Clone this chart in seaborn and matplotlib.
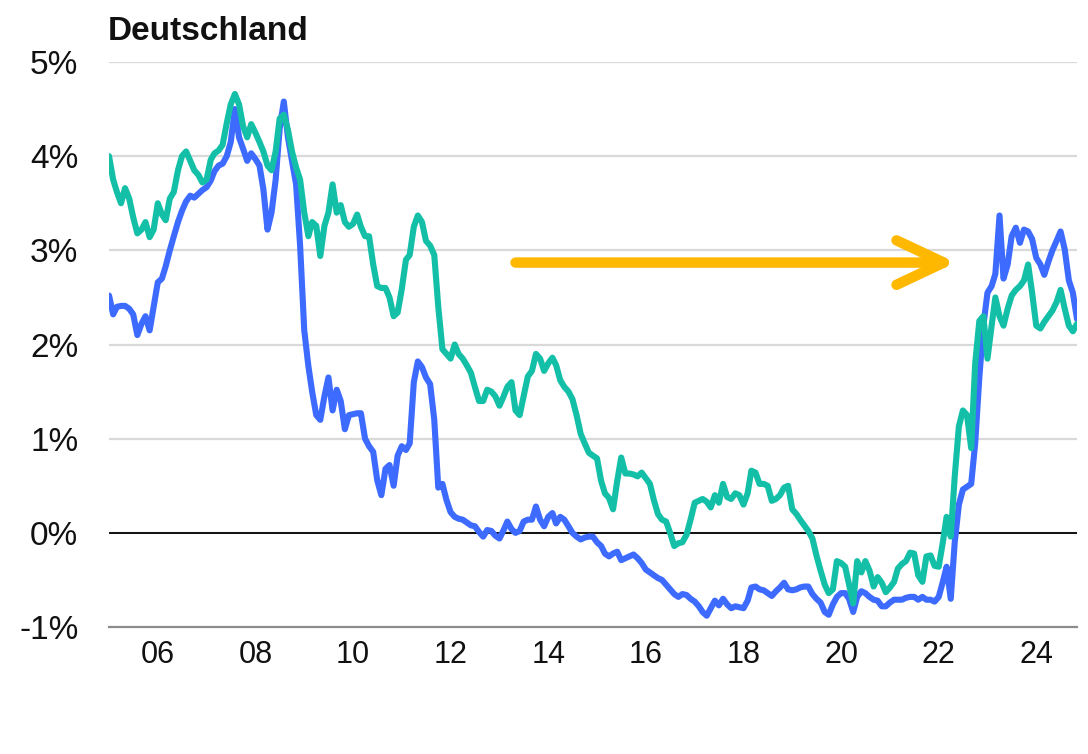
import numpy as np
import pandas as pd
import matplotlib
matplotlib.use("Agg")
import matplotlib.pyplot as plt
import matplotlib.dates as mdates
import seaborn as sns

# monthly readings, Jan 2005 .. Nov 2024 (values in %)
start_month = "2005-01-01"

yield_2y = [
    2.52, 2.32, 2.40, 2.41, 2.41, 2.38, 2.32, 2.10, 2.22, 2.30,
    2.15, 2.40, 2.66, 2.70, 2.83, 3.00, 3.15, 3.30, 3.42, 3.52,
    3.58, 3.56, 3.60, 3.64, 3.67, 3.74, 3.84, 3.90, 3.92, 4.00,
    4.15, 4.50, 4.20, 4.08,
    3.95, 4.03, 3.97, 3.90, 3.65, 3.22, 3.40, 3.75, 4.29, 4.58,
    4.20, 3.95, 3.70, 3.05, 2.15, 1.77, 1.50, 1.25, 1.20, 1.45,
    1.65, 1.30, 1.52, 1.40, 1.10, 1.25, 1.26, 1.27, 1.27, 1.00,
    0.92, 0.86, 0.56,
    0.40, 0.68, 0.72, 0.50, 0.82, 0.92, 0.88, 0.95, 1.60, 1.82,
    1.76, 1.65, 1.58, 1.20, 0.48, 0.52, 0.35, 0.22, 0.17, 0.15,
    0.14, 0.11, 0.08, 0.07, 0.01, -0.04, 0.03, 0.02, -0.03, -0.06,
    0.03, 0.12, 0.04, 0.00, 0.02, 0.12, 0.14,
    0.14, 0.28, 0.14, 0.07, 0.17, 0.21, 0.10, 0.17, 0.14, 0.07,
    0.00, -0.04, -0.07, -0.05, -0.04, -0.04, -0.10, -0.14, -0.22, -0.25,
    -0.22, -0.20, -0.29, -0.27, -0.25, -0.23, -0.27, -0.32, -0.39,
    -0.42, -0.45, -0.48, -0.50, -0.55, -0.60, -0.65, -0.68, -0.65, -0.66,
    -0.70, -0.73, -0.78, -0.84, -0.88, -0.80, -0.72, -0.77, -0.70, -0.76,
    -0.80, -0.78, -0.79, -0.80, -0.72, -0.58, -0.57, -0.60, -0.61, -0.64,
    -0.67, -0.62, -0.58, -0.53, -0.60, -0.61, -0.60, -0.58, -0.57, -0.57,
    -0.65, -0.70, -0.74, -0.84, -0.87, -0.76, -0.68, -0.64, -0.64, -0.70,
    -0.84, -0.68, -0.62, -0.64, -0.68, -0.71, -0.72, -0.78, -0.78, -0.74,
    -0.71, -0.71, -0.71, -0.69, -0.68, -0.68, -0.71, -0.68, -0.71, -0.71,
    -0.73,
    -0.68, -0.52, -0.36, -0.70, -0.10, 0.30, 0.46, 0.49, 0.52, 0.95,
    1.65, 2.20, 2.55, 2.62, 2.75, 3.37, 2.70, 2.85, 3.15, 3.24,
    3.08, 3.22, 3.20, 3.12, 2.92, 2.85, 2.74, 2.88, 3.00, 3.10,
    3.20, 3.01, 2.68, 2.55, 2.27,
]

yield_10y = [
    4.00, 3.75, 3.62, 3.50, 3.66, 3.55, 3.35, 3.18, 3.22, 3.30,
    3.14, 3.22, 3.50, 3.38, 3.32, 3.55, 3.62, 3.85, 4.00, 4.05,
    3.95, 3.85, 3.80, 3.72, 3.75, 3.96, 4.03, 4.06, 4.12, 4.35,
    4.55, 4.66, 4.55, 4.32,
    4.20, 4.34, 4.25, 4.15, 4.05, 3.90, 3.85, 4.05, 4.40, 4.44,
    4.28, 4.05, 3.88, 3.75, 3.40, 3.15, 3.30, 3.26, 2.94, 3.26,
    3.40, 3.70, 3.40, 3.48, 3.30, 3.25, 3.28, 3.38, 3.25, 3.15,
    3.15, 2.85, 2.62,
    2.60, 2.60, 2.50, 2.30, 2.34, 2.59, 2.90, 2.95, 3.25, 3.37,
    3.30, 3.10, 3.05, 2.95, 2.40, 1.95, 1.90, 1.85, 2.00, 1.90,
    1.85, 1.78, 1.70, 1.55, 1.40, 1.40, 1.52, 1.50, 1.45, 1.35,
    1.45, 1.55, 1.60, 1.30, 1.25, 1.45, 1.66,
    1.72, 1.90, 1.85, 1.72, 1.80, 1.86, 1.78, 1.62, 1.55, 1.50,
    1.42, 1.25, 1.05, 0.95, 0.85, 0.82, 0.79, 0.55, 0.42, 0.37,
    0.25, 0.55, 0.80, 0.63, 0.63, 0.62, 0.60, 0.64, 0.58, 0.52,
    0.35, 0.20, 0.14, 0.12,
    0.00, -0.14, -0.11, -0.10, -0.02, 0.14, 0.32, 0.34, 0.36, 0.33,
    0.27, 0.40, 0.32, 0.52, 0.38, 0.36, 0.42, 0.40, 0.30, 0.42,
    0.66, 0.64, 0.52, 0.52, 0.50, 0.34, 0.36, 0.40, 0.48, 0.50,
    0.25, 0.20, 0.14, 0.08, 0.02,
    -0.06, -0.24, -0.40, -0.55, -0.64, -0.60, -0.30, -0.32, -0.36, -0.55,
    -0.75, -0.30, -0.42, -0.30, -0.40, -0.57, -0.47, -0.53, -0.63, -0.58,
    -0.52, -0.38, -0.33, -0.30, -0.21, -0.22, -0.45, -0.52, -0.25, -0.24,
    -0.35,
    -0.36, -0.10, 0.17, -0.04, 0.60, 1.13, 1.30, 1.25, 0.90, 1.80,
    2.25, 2.30, 1.85, 2.20, 2.50, 2.30, 2.20, 2.38, 2.52, 2.58,
    2.62, 2.68, 2.85, 2.55, 2.20, 2.17, 2.24, 2.30, 2.36, 2.45,
    2.58, 2.38, 2.20, 2.14, 2.22,
]

tick_years = list(range(2006, 2025, 2))
y_ticks = [-1, 0, 1, 2, 3, 4, 5]
title = "Deutschland"

dates = pd.date_range(start_month, periods=len(yield_2y), freq="MS")
df = pd.DataFrame({"date": dates, "2y": yield_2y, "10y": yield_10y})

sns.set_style("white")
plt.rcParams["font.family"] = ["Liberation Sans", "DejaVu Sans"]

fig = plt.figure(figsize=(10.88, 7.54), dpi=100)
ax = fig.add_axes([0.1002, 0.1684, 0.8897, 0.7494])

for y in y_ticks[1:]:
    ax.axhline(y, color="#d9d9d9", lw=1.6, zorder=0)
ax.axhline(0, color="black", lw=1.3, zorder=1)

sns.lineplot(data=df, x="date", y="2y", ax=ax, color="#3d6bff", lw=4.4, zorder=3)
sns.lineplot(data=df, x="date", y="10y", ax=ax, color="#14bfa8", lw=4.4, zorder=4)

ax.set_xlim(dates[0], dates[-1])
ax.set_ylim(-1, 5)
ax.set_yticks(y_ticks)
ax.set_yticklabels([f"{v}%" for v in y_ticks])
ax.set_xticks([pd.Timestamp(f"{y}-01-01") for y in tick_years])
ax.xaxis.set_major_formatter(mdates.DateFormatter("%y"))
ax.set_xlabel("")
ax.set_ylabel("")
ax.tick_params(axis="y", length=0, pad=22, labelsize=24, labelcolor="#111111")
ax.tick_params(axis="x", length=0, pad=9, labelsize=22, labelcolor="#111111")
for s in ["top", "right", "left"]:
    ax.spines[s].set_visible(False)
ax.spines["bottom"].set_color("#8c8c8c")
ax.spines["bottom"].set_linewidth(1.6)

# orange annotation arrow
ax.annotate(
    "", xy=(pd.Timestamp("2022-05-10"), 2.87), xytext=(pd.Timestamp("2013-05-01"), 2.87),
    arrowprops=dict(arrowstyle="->,head_length=3.4,head_width=1.6", color="#ffb800",
                    lw=7.5, capstyle="round", joinstyle="round", mutation_scale=10,
                    shrinkA=0, shrinkB=0),
    zorder=5,
)

fig.text(0.099, 0.979, title, fontsize=24, fontweight="bold", va="top", ha="left", color="#111111")

fig.savefig("out.png", dpi=100)
